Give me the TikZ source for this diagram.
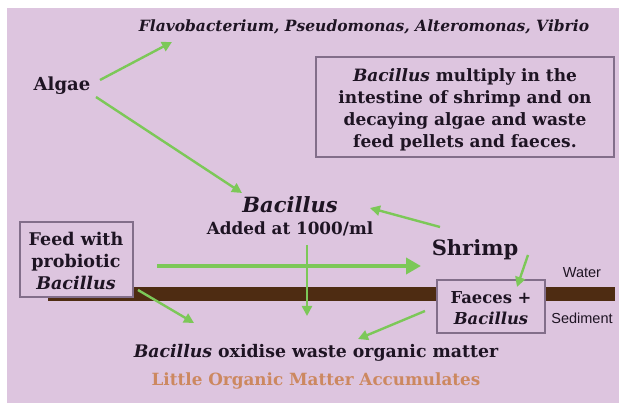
\documentclass[tikz,border=0pt]{standalone}
\usepackage{fontspec}
\setmainfont{DejaVu Serif}
\newfontfamily\labelsans{Liberation Sans}
\usetikzlibrary{arrows.meta}
\definecolor{bgpink}{RGB}{221,197,223}
\definecolor{arrgreen}{RGB}{124,200,88}
\definecolor{soil}{RGB}{78,44,18}
\definecolor{boxline}{RGB}{130,110,138}
\definecolor{txt}{RGB}{30,20,35}
\definecolor{orangetxt}{RGB}{204,136,96}
\tikzset{
  x=1pt,y=-1pt,
  garrow/.style={draw=arrgreen,line width=2.4pt,-{Triangle[length=10pt,width=10pt]}},
  bigarrow/.style={draw=arrgreen,line width=4pt,-{Triangle[length=15pt,width=16pt]}},
  lbl/.style={text=txt,inner sep=1pt,align=center},
  framebox/.style={draw=boxline,line width=1.3pt,fill=bgpink,inner sep=0pt},
  sanslbl/.style={text=txt,font=\labelsans\fontsize{14.5}{16}\selectfont,inner sep=1pt}
}
\begin{document}
\begin{tikzpicture}
\useasboundingbox (0,0) rectangle (619,403);
\fill[white] (0,0) rectangle (619,403);
\fill[bgpink] (7,8) rectangle (619,403);
% sediment bar
\fill[soil] (48,287) rectangle (615,301);
% texts
\node[lbl,font=\bfseries\itshape\fontsize{15.5}{18}\selectfont] (flavo) at (364,27) {Flavobacterium, Pseudomonas, Alteromonas, Vibrio};
\node[lbl,font=\bfseries\fontsize{18}{20}\selectfont] (algae) at (62,86) {Algae};
\node[draw=boxline,line width=1.3pt,minimum width=298pt,minimum height=100pt,inner sep=0pt] (infobox) at (465,107) {};
\node[lbl,font=\bfseries\fontsize{17}{22.2}\selectfont] (info) at (465,110) {\textit{Bacillus} multiply in the\\intestine of shrimp and on\\decaying algae and waste\\feed pellets and faeces.};
\node[lbl,font=\bfseries\itshape\fontsize{21}{24}\selectfont] (bac) at (290,205) {Bacillus};
\node[lbl,font=\bfseries\fontsize{16.8}{20}\selectfont] (added) at (290,229) {Added at 1000/ml};
\node[framebox,minimum width=113pt,minimum height=75pt] (feedbox) at (76.5,259.5) {};
\node[lbl,font=\bfseries\fontsize{17.5}{22}\selectfont] (feed) at (76,261) {Feed with\\probiotic\\\textit{Bacillus}};
\node[lbl,font=\bfseries\fontsize{21}{24}\selectfont] (shrimp) at (475,250) {Shrimp};
\node[framebox,minimum width=108pt,minimum height=53pt] (faecesbox) at (491,306.5) {};
\node[lbl,font=\bfseries\fontsize{16.4}{21}\selectfont] (faeces) at (491,308) {Faeces +\\\textit{Bacillus}};
\node[sanslbl] (water) at (582,273) {Water};
\node[sanslbl] (sed) at (582,318) {Sediment};
\node[lbl,font=\bfseries\fontsize{17.3}{20}\selectfont] (oxid) at (316,353) {\textit{Bacillus} oxidise waste organic matter};
\node[lbl,font=\bfseries\fontsize{16.8}{20}\selectfont,text=orangetxt] (little) at (316,381) {Little Organic Matter Accumulates};
% coordinates for arrows
\coordinate (a1s) at (100,80); \coordinate (a1e) at (172,42);
\coordinate (a2s) at (96,97); \coordinate (a2e) at (242,193);
\coordinate (a3s) at (440,227); \coordinate (a3e) at (370,208);
\coordinate (a4s) at (157,266); \coordinate (a4e) at (421,266);
\coordinate (a5s) at (307,245); \coordinate (a5e) at (307,316);
\coordinate (a6s) at (528,255); \coordinate (a6e) at (517,287);
\coordinate (a7s) at (138,290); \coordinate (a7e) at (194,323);
\coordinate (a8s) at (425,311); \coordinate (a8e) at (358,339);
\draw[garrow] (a1s) -- (a1e);
\draw[garrow] (a2s) -- (a2e);
\draw[garrow] (a3s) -- (a3e);
\draw[bigarrow] (a4s) -- (a4e);
\draw[garrow] (a5s) -- (a5e);
\draw[garrow] (a6s) -- (a6e);
\draw[garrow] (a7s) -- (a7e);
\draw[garrow] (a8s) -- (a8e);
\end{tikzpicture}
\end{document}
